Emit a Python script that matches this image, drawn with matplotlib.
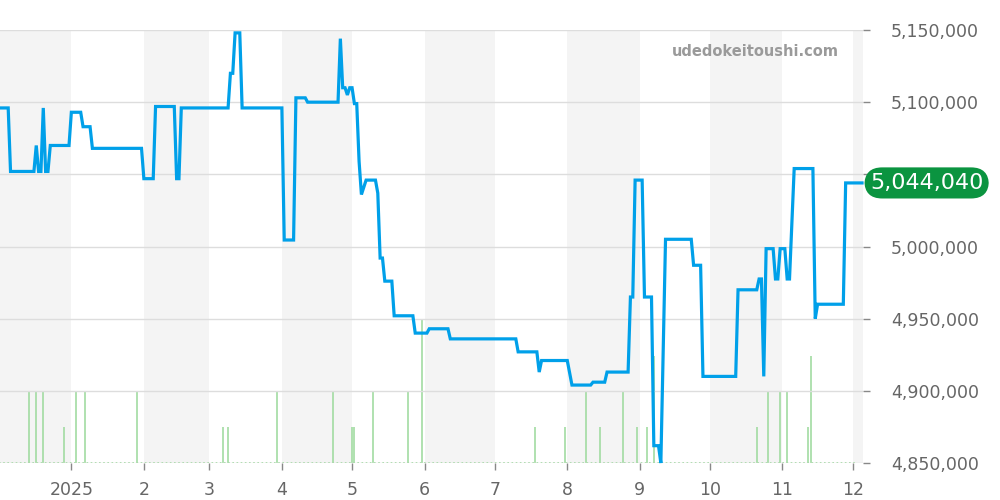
import numpy as np
import pandas as pd
import matplotlib
matplotlib.use("Agg")
import matplotlib.pyplot as plt
import matplotlib.dates as mdates
from matplotlib.ticker import FuncFormatter

# price series (date, yen)
price_dates = [
    "2024-12-02", "2024-12-05", "2024-12-06", "2024-12-16", "2024-12-17", "2024-12-18",
    "2024-12-19", "2024-12-20", "2024-12-21", "2024-12-22", "2024-12-23", "2024-12-31",
    "2025-01-01", "2025-01-05", "2025-01-06", "2025-01-09", "2025-01-10", "2025-01-31",
    "2025-02-01", "2025-02-05", "2025-02-06", "2025-02-14", "2025-02-15", "2025-02-16",
    "2025-02-17", "2025-03-09", "2025-03-10", "2025-03-11", "2025-03-12", "2025-03-14",
    "2025-03-15", "2025-04-01", "2025-04-02", "2025-04-06", "2025-04-07", "2025-04-11",
    "2025-04-12", "2025-04-25", "2025-04-26", "2025-04-27", "2025-04-28", "2025-04-29",
    "2025-04-30", "2025-05-01", "2025-05-02", "2025-05-03", "2025-05-04", "2025-05-05",
    "2025-05-07", "2025-05-11", "2025-05-12", "2025-05-13", "2025-05-14", "2025-05-15",
    "2025-05-18", "2025-05-19", "2025-05-27", "2025-05-28", "2025-06-02", "2025-06-03",
    "2025-06-11", "2025-06-12", "2025-07-10", "2025-07-11", "2025-07-19", "2025-07-20",
    "2025-07-21", "2025-08-01", "2025-08-03", "2025-08-11", "2025-08-12", "2025-08-17",
    "2025-08-18", "2025-08-27", "2025-08-28", "2025-08-29", "2025-08-30", "2025-09-02",
    "2025-09-03", "2025-09-06", "2025-09-07", "2025-09-09", "2025-09-10", "2025-09-12",
    "2025-09-23", "2025-09-24", "2025-09-27", "2025-09-28", "2025-10-12", "2025-10-13",
    "2025-10-21", "2025-10-22", "2025-10-23", "2025-10-24", "2025-10-25", "2025-10-28",
    "2025-10-29", "2025-10-30", "2025-10-31", "2025-11-02", "2025-11-03", "2025-11-04",
    "2025-11-06", "2025-11-14", "2025-11-15", "2025-11-16", "2025-11-27", "2025-11-28",
    "2025-12-05",
]
price_values = [
    5096000, 5096000, 5052000, 5052000, 5070000, 5052000,
    5052000, 5096000, 5052000, 5052000, 5070000, 5070000,
    5093000, 5093000, 5083000, 5083000, 5068000, 5068000,
    5047000, 5047000, 5097000, 5097000, 5047000, 5047000,
    5096000, 5096000, 5120000, 5120000, 5148000, 5148000,
    5096000, 5096000, 5004500, 5004500, 5103000, 5103000,
    5100000, 5100000, 5144000, 5110000, 5110000, 5105000,
    5110000, 5110000, 5099000, 5099000, 5059000, 5036000,
    5046000, 5046000, 5037000, 4992000, 4992000, 4976000,
    4976000, 4952000, 4952000, 4940000, 4940000, 4943000,
    4943000, 4936000, 4936000, 4927000, 4927000, 4913000,
    4921000, 4921000, 4904000, 4904000, 4906000, 4906000,
    4913000, 4913000, 4965000, 4965000, 5046000, 5046000,
    4965000, 4965000, 4862000, 4862000, 4850000, 5005000,
    5005000, 4987000, 4987000, 4910000, 4910000, 4970000,
    4970000, 4977500, 4977500, 4910000, 4998500, 4998500,
    4977500, 4977500, 4998500, 4998500, 4977500, 4977500,
    5054000, 5054000, 4950000, 4960000, 4960000, 5044040,
    5044040,
]

# listings volume
vol_dates = [
    "2024-12-14", "2024-12-17", "2024-12-20", "2024-12-29", "2025-01-03", "2025-01-07",
    "2025-01-29", "2025-03-07", "2025-03-09", "2025-03-30", "2025-04-23", "2025-05-01",
    "2025-05-02", "2025-05-10", "2025-05-25", "2025-05-31", "2025-07-18", "2025-07-31",
    "2025-08-09", "2025-08-15", "2025-08-25", "2025-08-31", "2025-09-04", "2025-09-07",
    "2025-10-21", "2025-10-26", "2025-10-31", "2025-11-03", "2025-11-12", "2025-11-13",
]
vol_values = [2, 2, 2, 1, 2, 2,
              2, 1, 1, 2, 2, 1,
              1, 2, 2, 4, 1, 1,
              2, 1, 2, 1, 1, 3,
              1, 2, 2, 2, 1, 3]

month_labels = ["2025", "2", "3", "4", "5", "6", "7", "8", "9", "10", "11", "12"]
price_ticks = [4850000, 4900000, 4950000, 5000000, 5050000, 5100000, 5150000]

pd_dates = pd.to_datetime(price_dates)
vd = pd.to_datetime(vol_dates)
all_days = pd.date_range("2024-12-01", "2025-12-03", freq="D")

fig = plt.figure(figsize=(10, 5), dpi=100)
ax = fig.add_axes([0.0, 0.074, 0.863, 0.866])
vol = ax.twinx()
vol.set_zorder(ax.get_zorder() - 1)
ax.set_zorder(vol.get_zorder() + 1)
ax.patch.set_visible(False)

x0 = pd.Timestamp("2024-12-01 12:00")
x1 = pd.Timestamp("2025-12-05 10:00")

# alternating month shading
month_starts = pd.date_range("2024-12-01", "2026-01-01", freq="MS")
for i in range(0, len(month_starts) - 1, 2):
    vol.axvspan(month_starts[i], month_starts[i + 1], color="#f4f4f4", lw=0)

vol.vlines(vd, 0, vol_values, color="#9ad99a", lw=1.1)
vol.plot(all_days, np.zeros(len(all_days)), ls=(0, (1, 1.5)), color="#9bd89b", lw=1.2)
vol.set_ylim(0, 12.1)
vol.set_yticks([])
vol.set_xlim(x0, x1)

ax.plot(pd_dates, price_values, color="#00a0e9", lw=2.3, solid_joinstyle="miter", zorder=3, clip_on=False)
ax.set_xlim(x0, x1)
ax.set_ylim(4850000, 5150000)
ax.set_yticks(price_ticks)
ax.yaxis.tick_right()
last = price_values[-1]
# the tick label hidden under the badge is left blank
ax.yaxis.set_major_formatter(FuncFormatter(
    lambda v, p: "" if abs(v - last) < 12000 else f"{int(v):,}"))
ax.grid(axis="y", color="#dddddd", lw=1)
ax.set_axisbelow(True)

tick_pos = pd.date_range("2025-01-01", "2025-12-01", freq="MS")
ax.set_xticks(tick_pos)
ax.set_xticklabels(month_labels)
ax.tick_params(axis="both", colors="#888888", labelcolor="#666666", labelsize=12.5, length=5, width=1)
ax.tick_params(axis="y", pad=15)
ax.tick_params(axis="x", pad=8)
for a in (ax, vol):
    for s in a.spines.values():
        s.set_visible(False)
vol.tick_params(axis="x", bottom=False, labelbottom=False)

# last price badge
ax.annotate(f"{last:,}", xy=(1.0, last), xycoords=("axes fraction", "data"),
            xytext=(5, 0), textcoords="offset points", ha="left", va="center",
            fontsize=16, color="white",
            bbox=dict(boxstyle="round,pad=0.25,rounding_size=0.8", fc="#0b9440", ec="none"))

fig.text(0.755, 0.896, "udedokeitoushi.com", ha="center", va="center",
         fontsize=10.5, fontweight="bold", color="#9a9a9a")

fig.savefig("out.png", dpi=100)
